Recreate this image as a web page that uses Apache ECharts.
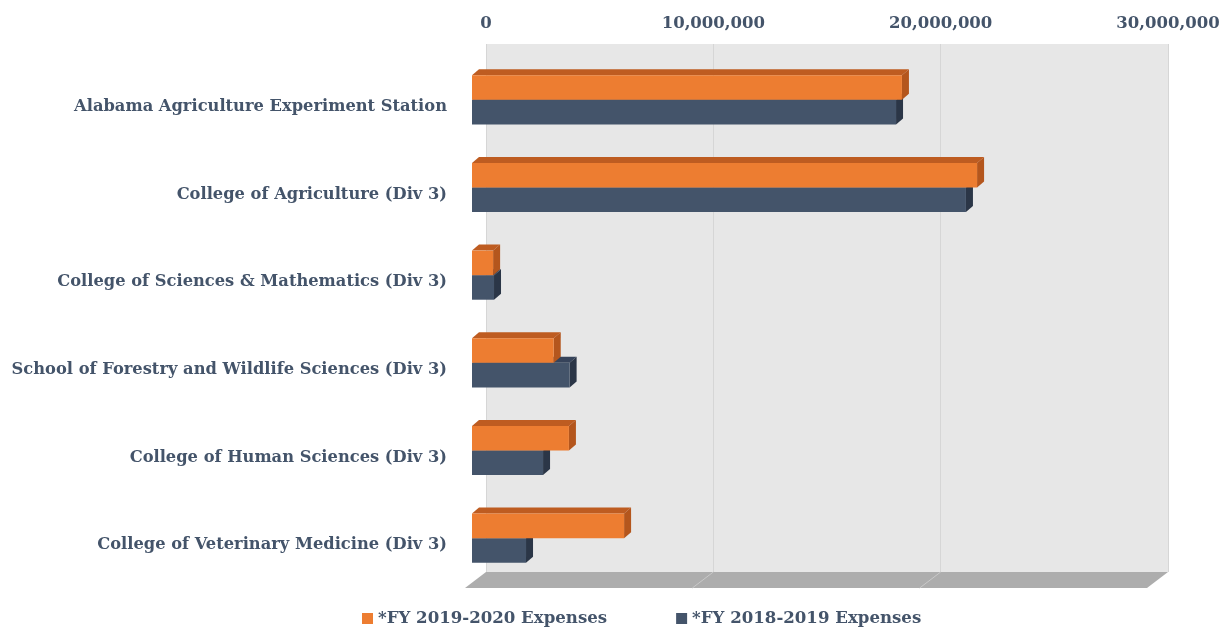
<!DOCTYPE html>
<html>
<head>
<meta charset="utf-8">
<script src="https://cdn.jsdelivr.net/npm/echarts@6/dist/echarts.min.js"></script>
<style>
  html, body { margin: 0; padding: 0; background: #fff; }
  #chart { width: 1230px; height: 633px; }
</style>
</head>
<body>
<div id="chart"></div>
<script>
// categories, top to bottom
const categories = [
  "Alabama Agriculture Experiment Station",
  "College of Agriculture (Div 3)",
  "College of Sciences & Mathematics (Div 3)",
  "School of Forestry and Wildlife Sciences (Div 3)",
  "College of Human Sciences (Div 3)",
  "College of Veterinary Medicine (Div 3)"
];
const seriesNames = ["*FY 2019-2020 Expenses", "*FY 2018-2019 Expenses"];
const fy2020 = [18940000, 22250000, 930000, 3600000, 4270000, 6700000];
const fy2019 = [18680000, 21760000, 970000, 4300000, 3130000, 2380000];
const xTicks = [0, 10000000, 20000000, 30000000];

const textColor = "#44546A";
const font = "DejaVu Serif";

// 3d look, depth of bars and of the floor
const barDepth = { dx: 7, dy: 6 };
const floorDepth = { dx: 21, dy: 16 };

function barRenderer(upper, colors) {
  return function (params, api) {
    const v = api.value(0);
    const c = api.value(1);
    const p0 = api.coord([0, c]);
    const p1 = api.coord([v, c]);
    const band = api.size([0, 1])[1];
    const h = band * 0.28;
    const y0 = upper ? p0[1] - h : p0[1];
    const x0 = p0[0], x1 = p1[0];
    const { dx, dy } = barDepth;
    return {
      type: "group",
      children: [
        {
          type: "polygon",
          shape: { points: [[x0, y0], [x1, y0], [x1 + dx, y0 - dy], [x0 + dx, y0 - dy]] },
          style: { fill: colors.top }
        },
        {
          type: "polygon",
          shape: { points: [[x1, y0], [x1 + dx, y0 - dy], [x1 + dx, y0 + h - dy], [x1, y0 + h]] },
          style: { fill: colors.side }
        },
        {
          type: "rect",
          shape: { x: x0, y: y0, width: x1 - x0, height: h },
          style: { fill: colors.front }
        }
      ]
    };
  };
}

function floorRenderer(params, api) {
  const cs = params.coordSys;
  const yb = cs.y + cs.height;
  const { dx, dy } = floorDepth;
  const children = [{
    type: "polygon",
    shape: { points: [[cs.x, yb], [cs.x + cs.width, yb], [cs.x + cs.width - dx, yb + dy], [cs.x - dx, yb + dy]] },
    style: { fill: "#ADADAD" }
  }];
  xTicks.slice(1, -1).forEach(function (t) {
    const x = api.coord([t, 0])[0];
    children.push({
      type: "line",
      shape: { x1: x, y1: yb, x2: x - dx, y2: yb + dy },
      style: { stroke: "#C9C9C9", lineWidth: 1 }
    });
  });
  return { type: "group", children: children };
}

const chart = echarts.init(document.getElementById("chart"));
chart.setOption({
  backgroundColor: "#fff",
  animation: false,
  legend: {
    data: seriesNames,
    bottom: 1,
    left: 357,
    itemGap: 69,
    itemWidth: 11,
    itemHeight: 11,
    icon: "rect",
    textStyle: { color: textColor, fontFamily: font, fontWeight: "bold", fontSize: 16.6 }
  },
  grid: [
    // front plane of the bars
    { left: 472, right: 77, top: 56, bottom: 51 },
    // back wall
    { left: 486, right: 62, top: 44, bottom: 61, show: true, backgroundColor: "#E7E7E7", borderWidth: 0 }
  ],
  xAxis: [
    { gridIndex: 0, type: "value", min: 0, max: 30000000, interval: 10000000, show: false },
    {
      gridIndex: 1, type: "value", position: "top", min: 0, max: 30000000, interval: 10000000,
      axisLine: { show: false }, axisTick: { show: false },
      axisLabel: {
        margin: 12, color: textColor, fontFamily: font, fontWeight: "bold", fontSize: 16.5,
        formatter: function (v) { return v.toLocaleString("en-US"); }
      },
      splitLine: { lineStyle: { color: "#D6D6D6", width: 1 } }
    }
  ],
  yAxis: [
    {
      gridIndex: 0, type: "category", data: categories, inverse: true,
      axisLine: { show: false }, axisTick: { show: false },
      axisLabel: {
        margin: 25, color: textColor, fontFamily: font, fontWeight: "bold", fontSize: 16.3,
        verticalAlign: "top", lineHeight: 14
      }
    },
    { gridIndex: 1, type: "value", min: 0, max: 1, show: false }
  ],
  series: [
    {
      name: "floor", type: "custom", xAxisIndex: 1, yAxisIndex: 1,
      data: [[0, 0]], renderItem: floorRenderer, silent: true
    },
    {
      name: seriesNames[1], type: "custom", xAxisIndex: 0, yAxisIndex: 0,
      itemStyle: { color: "#44546A" },
      data: fy2019.map(function (v, i) { return [v, i]; }),
      encode: { x: 0, y: 1 },
      renderItem: barRenderer(false, { front: "#44546A", top: "#36435A", side: "#2B3647" })
    },
    {
      name: seriesNames[0], type: "custom", xAxisIndex: 0, yAxisIndex: 0,
      itemStyle: { color: "#ED7D31" },
      data: fy2020.map(function (v, i) { return [v, i]; }),
      encode: { x: 0, y: 1 },
      renderItem: barRenderer(true, { front: "#ED7D31", top: "#BE5C21", side: "#B4561D" })
    }
  ]
});
</script>
</body>
</html>
